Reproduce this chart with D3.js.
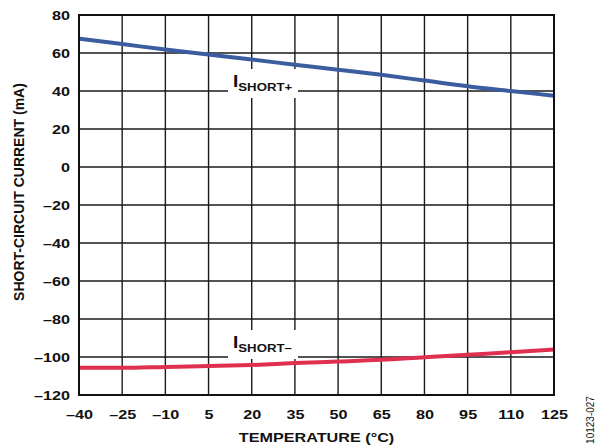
<!DOCTYPE html>
<html><head><meta charset="utf-8">
<script src="https://cdn.jsdelivr.net/npm/d3@7"></script>
<style>body{margin:0;background:#fff}svg{display:block}text{font-family:"Liberation Sans",Arial,sans-serif}</style>
</head><body>
<svg id="c" width="597" height="445"></svg>
<script>
const temps = [-40, -25, -10, 5, 20, 35, 50, 65, 80, 95, 110, 125];
const iShortPlus = [67.5, 64.7, 61.8, 59.2, 56.6, 53.8, 51.2, 48.5, 45.5, 42.5, 40.0, 37.5];
const iShortMinus = [-105.7, -105.7, -105.2, -104.8, -104.2, -103.2, -102.4, -101.5, -100.1, -98.8, -97.5, -96.1];
const xTicks = [-40, -25, -10, 5, 20, 35, 50, 65, 80, 95, 110, 125];
const yTicks = [80, 60, 40, 20, 0, -20, -40, -60, -80, -100, -120];
const fmt = v => (v < 0 ? "\u2013" + Math.abs(v) : "" + v);

const SX = 1.2, FS = 13.5;
const svg = d3.select("#c");
const L = 79, R = 554, T = 15, B = 395;
const x = d3.scaleLinear().domain([-40, 125]).range([L, R]);
const y = d3.scaleLinear().domain([-120, 80]).range([B, T]);

// grid
const g = svg.append("g");
g.selectAll(".vx").data(xTicks).join("line")
  .attr("x1", d => x(d)).attr("x2", d => x(d)).attr("y1", T).attr("y2", B)
  .attr("stroke", "#1a1a1a").attr("stroke-width", 1.4);
g.selectAll(".hy").data(yTicks).join("line")
  .attr("y1", d => y(d)).attr("y2", d => y(d)).attr("x1", L).attr("x2", R)
  .attr("stroke", "#1a1a1a").attr("stroke-width", 1.4);

// axes labels
const xa = svg.append("g").attr("transform", `translate(0,${B})`)
  .call(d3.axisBottom(x).tickValues(xTicks).tickFormat(fmt).tickSize(0).tickPadding(0));
xa.selectAll("text").attr("y", 24).attr("dy", null);
const ya = svg.append("g").attr("transform", `translate(${L},0)`)
  .call(d3.axisLeft(y).tickValues(yTicks).tickFormat(fmt).tickSize(0).tickPadding(0));
ya.selectAll("text").attr("x", -9 / SX).attr("dy", "0.36em");
[xa, ya].forEach(a => {
  a.select(".domain").remove();
  a.selectAll("text").attr("font-size", FS).attr("font-weight", "bold").attr("fill", "#111")
    .attr("font-family", '"Liberation Sans",Arial,sans-serif')
    .attr("transform", `scale(${SX},1)`);
});

// lines
const line = d3.line().x((d, i) => x(temps[i])).y(d => y(d)).curve(d3.curveMonotoneX);
svg.append("path").datum(iShortPlus).attr("d", line).attr("fill", "none")
  .attr("stroke", "#3b5c9e").attr("stroke-width", 4);
svg.append("path").datum(iShortMinus).attr("d", line).attr("fill", "none")
  .attr("stroke", "#e0304f").attr("stroke-width", 4);

// labels with white boxes
function label(px, py, sub) {
  svg.append("rect").attr("x", px - 5).attr("y", py - 18).attr("width", 70).attr("height", 29).attr("fill", "#fff");
  const t = svg.append("text").attr("transform", `translate(${px},${py}) scale(${SX},1)`)
    .attr("font-weight", "bold").attr("fill", "#111");
  t.append("tspan").attr("font-size", 16).text("I");
  t.append("tspan").attr("font-size", 11).attr("dy", 4).text(sub);
}
label(233, 87, "SHORT+");
label(233, 348, "SHORT\u2013");

// frame
svg.append("rect").attr("x", L).attr("y", T).attr("width", R - L).attr("height", B - T)
  .attr("fill", "none").attr("stroke", "#111").attr("stroke-width", 2);

// titles
svg.append("text").attr("transform", `translate(${(L + R) / 2},442) scale(${SX},1)`).attr("text-anchor", "middle")
  .attr("font-size", FS).attr("font-weight", "bold").attr("fill", "#111").text("TEMPERATURE (°C)");
svg.append("text").attr("transform", `translate(24,192) rotate(-90)`).attr("text-anchor", "middle")
  .attr("font-size", 14).attr("font-weight", "bold").attr("fill", "#111").text("SHORT-CIRCUIT CURRENT (mA)");
svg.append("text").attr("transform", `translate(594,420) rotate(-90)`).attr("text-anchor", "middle")
  .attr("font-size", 10).attr("fill", "#111").text("10123-027");
</script>
</body></html>
